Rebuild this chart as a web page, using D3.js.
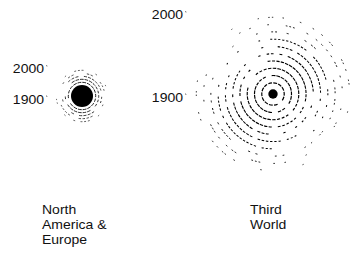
<!DOCTYPE html>
<html><head><meta charset="utf-8">
<script src="https://cdn.jsdelivr.net/npm/d3@7"></script>
<style>
body{margin:0;background:#fff}
svg{display:block}
text{font-family:"Liberation Sans",Arial,Helvetica,sans-serif;fill:#111;font-size:12.5px}
</style>
</head><body>
<svg id="c" width="357" height="257"></svg>
<script>
// ---- data (area-proportional sizes) ----
const categories = ["North America & Europe", "Third World"];
const labelLines = [["North", "America &", "Europe"], ["Third", "World"]];
const yearLabels = ["1900", "2000"];
const size1900 = [121, 22];
const size2000 = [784, 6400];

// ---- layout / style (not data) ----
const centerY = [96, 94];
const labelOffsetX = [-40, -23];
const emphasisAngle = [Math.PI / 2, -Math.PI / 4];

const svg = d3.select("#c");
const x = d3.scalePoint().domain(categories).range([82, 273]).padding(0);
const r = d3.scaleSqrt().domain([0, 6400]).range([0, 80]);

function hash(a, b) {
  const s = Math.sin(a * 12.9898 + b * 78.233) * 43758.5453;
  return s - Math.floor(s);
}

categories.forEach((cat, i) => {
  const cx = x(cat), cy = centerY[i];
  const r0 = r(size1900[i]), R = r(size2000[i]);
  const g = svg.append("g");
  const step = Math.max(3, R / 11);
  const sw = Math.min(1.25, step * 0.3);
  const rings = d3.range(r0 + step * 0.9, R + 0.01, step);
  rings.forEach((rr, k) => {
    const t = (rr - r0) / (R - r0);
    const pitch = 5 - 1.5 * t;
    const n = Math.max(8, Math.round(2 * Math.PI * rr / pitch));
    const phase = hash(k + 1, i + 3) * 2 * Math.PI;
    const p = d3.path();
    for (let j = 0; j < n; j++) {
      const th = phase + j * 2 * Math.PI / n;
      const e = Math.pow(Math.abs(Math.cos(th - emphasisAngle[i])), 2);
      const base = Math.pow(1 - t, 1.4);
      const alpha = Math.min(1, base * 0.9 + e * 0.7 * (0.45 + 0.55 * (1 - t)) + 0.06);
      if (hash(k * 7 + 1, j + i * 101) > alpha) continue;
      const len = pitch * (0.25 + 0.55 * alpha) / rr;
      p.moveTo(cx + rr * Math.cos(th), cy + rr * Math.sin(th));
      p.arc(cx, cy, rr, th, th + len);
    }
    g.append("path").attr("d", p.toString())
      .attr("fill", "none").attr("stroke", "#000")
      .attr("stroke-width", sw - 0.3 * sw * t);
  });
  g.append("circle").attr("cx", cx).attr("cy", cy).attr("r", r0).attr("fill", "#000");

  // year labels
  const lx = cx - R - 10;
  const ly = [cy + 7.5, cy - R + 5];
  yearLabels.forEach((yl, j) => {
    svg.append("text")
      .attr("transform", `translate(${lx},${ly[j]}) scale(1.12,1)`)
      .attr("text-anchor", "end").text(yl);
    svg.append("line")
      .attr("x1", lx + 2.5).attr("x2", lx + 3)
      .attr("y1", ly[j] - 8).attr("y2", ly[j] - 6.5)
      .attr("stroke", "#777").attr("stroke-width", 1);
  });

  // category label
  labelLines[i].forEach((ln, j) => {
    svg.append("text")
      .attr("transform", `translate(${cx + labelOffsetX[i]},${213.5 + j * 15}) scale(1.12,1)`)
      .text(ln);
  });
});
</script>
</body></html>
